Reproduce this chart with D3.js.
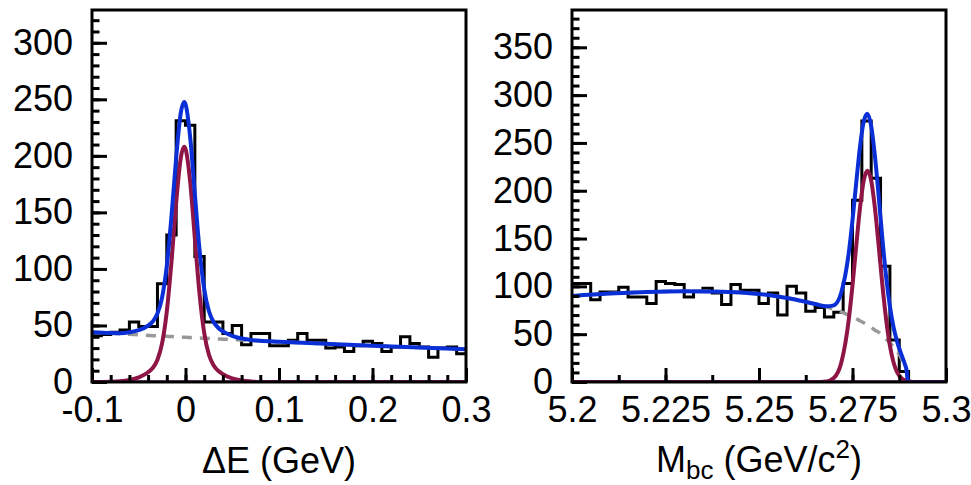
<!DOCTYPE html>
<html lang="en">
<head>
<meta charset="utf-8">
<script src="https://d3js.org/d3.v7.min.js"></script>
<style>
  body { margin: 0; background: #fff; }
  svg { display: block; font-family: "Liberation Sans", Arial, Helvetica, sans-serif; }
  .frame { fill: none; stroke: #000; stroke-width: 3; }
  .axis path.domain { display: none; }
  .axis line { stroke: #000; stroke-width: 3; }
  .axis text { font-size: 36px; fill: #000; font-family: "Liberation Sans", Arial, Helvetica, sans-serif; }
  .title { font-size: 36px; fill: #000; }
  .hist { fill: none; stroke: #000; stroke-width: 3; }
  .bkg { fill: none; stroke: #999; stroke-width: 3.5; stroke-dasharray: 10 8; }
  .sig { fill: none; stroke: #8e1546; stroke-width: 4; }
  .tot { fill: none; stroke: #0b2fd6; stroke-width: 4; }
  .flat { fill: none; stroke: #8a1f82; stroke-width: 3.5; }
</style>
</head>
<body>
<svg id="chart" width="971" height="485"></svg>
<script>
// ---- Delta E panel: 40 bins of 0.01 GeV starting at -0.1 ----
const deBins = [41, 42, 44, 46, 53, 49, 49, 87, 130, 231,
                227, 111, 53, 53, 43, 50, 33, 43, 43, 32,
                32, 37, 43, 37, 37, 30, 31, 27, 32, 36,
                34, 27, 31, 40, 34, 31, 22, 30, 31, 25];
// fit curves sampled along Delta E
const deFitX = [-0.1, -0.08, -0.07, -0.06, -0.05, -0.04, -0.035, -0.03, -0.025, -0.02,
                -0.015, -0.01, -0.005, -0.0015, 0, 0.005, 0.01, 0.015, 0.02, 0.025,
                0.03, 0.035, 0.04, 0.05, 0.06, 0.07, 0.08, 0.1, 0.15, 0.2, 0.25, 0.3];
const deBkg = [44.0, 43.1, 42.6, 42.2, 41.7, 41.2, 41.0, 40.8, 40.6, 40.4,
               40.2, 39.9, 39.7, 39.6, 39.5, 39.3, 39.1, 38.9, 38.7, 38.5,
               38.3, 38.1, 37.9, 37.5, 37.1, 36.7, 36.3, 35.6, 33.8, 32.1, 30.5, 29.0];
const deSig = [0, 0.2, 0.6, 1.75, 4.1, 8.6, 12.5, 19.7, 34.3, 62.3,
               106.2, 158.3, 198.5, 208, 206.2, 177.1, 127, 78.1, 43.6, 24.3,
               14.8, 9.9, 6.9, 3.2, 1.3, 0.5, 0.1, 0, 0, 0, 0, 0];
const deTot = [44.0, 43.3, 43.2, 44.0, 45.8, 49.8, 53.5, 60.5, 74.9, 102.7,
               146.4, 198.2, 238.2, 247.6, 245.7, 216.4, 166.1, 117.0, 82.3, 62.8,
               53.1, 48.0, 44.8, 40.7, 38.4, 37.2, 36.4, 35.6, 33.8, 32.1, 30.5, 29.0];
const deTicks = [-0.1, 0, 0.1, 0.2, 0.3];
const deTickLabels = ["-0.1", "0", "0.1", "0.2", "0.3"];
const deYTicks = [0, 50, 100, 150, 200, 250, 300];

// ---- Mbc panel: 40 bins of 2.5 MeV starting at 5.2 ----
const mbcBins = [103, 103, 86, 94, 94, 99, 89, 89, 82, 105,
                 103, 102, 89, 95, 98, 93, 81, 102, 96, 96,
                 82, 93, 70, 100, 93, 74, 78, 68, 73, 103,
                 190, 273, 213, 121, 44, 11, 0, 0, 0, 0];
const mbcFitX = [5.2, 5.21, 5.22, 5.23, 5.24, 5.25, 5.255, 5.26, 5.265, 5.268,
                 5.27, 5.272, 5.274, 5.275, 5.276, 5.277, 5.278, 5.279, 5.28, 5.281,
                 5.282, 5.283, 5.284, 5.285, 5.286, 5.287, 5.288, 5.289, 5.2895, 5.2898,
                 5.29, 5.292, 5.3];
const mbcBkg = [90, 92.5, 94.2, 95, 94.5, 92, 89.5, 86, 81.5, 78.5,
                76, 73.4, 69.8, 68.1, 66.1, 64, 61.9, 59.5, 57, 54.2,
                52, 48.2, 44.7, 41, 36.5, 31.5, 25.3, 16.9, 10.4, 0,
                0, 0, 0];
const mbcSig = [0, 0, 0, 0, 0, 0, 0, 0, 0, 0.6,
                4.2, 20.2, 65.2, 101.2, 142.4, 181.8, 210.5, 221, 210.5, 181.8,
                142.4, 101.2, 65.2, 38.1, 20.2, 9.7, 4.2, 1.7, 1.0, 0.8,
                0.6, 0, 0];
const mbcTot = [90, 92.5, 94.2, 95, 94.5, 92, 89.5, 86, 81.5, 79.1,
                80.2, 93.6, 135, 169.3, 208.5, 245.8, 272.4, 280.5, 267.5, 236,
                194.4, 149.4, 109.9, 79.1, 56.7, 41.2, 29.5, 18.6, 11.4, 0.8,
                0.6, 0, 0];
const mbcTicks = [5.2, 5.225, 5.25, 5.275, 5.3];
const mbcTickLabels = ["5.2", "5.225", "5.25", "5.275", "5.3"];
const mbcYTicks = [0, 50, 100, 150, 200, 250, 300, 350];

const svg = d3.select("#chart");

const panels = [
  { id: "de", x0: 92, x1: 466, y0: 10, y1: 382,
    xDomain: [-0.1, 0.3], yMax: 329, binWidth: 0.01, minorX: 0.02,
    bins: deBins, fitX: deFitX, bkg: deBkg, sig: deSig, tot: deTot,
    xTicks: deTicks, xLabels: deTickLabels, yTicks: deYTicks },
  { id: "mbc", x0: 572, x1: 946, y0: 10, y1: 382,
    xDomain: [5.2, 5.3], yMax: 389, binWidth: 0.0025, minorX: 0.0125,
    bins: mbcBins, fitX: mbcFitX, bkg: mbcBkg, sig: mbcSig, tot: mbcTot,
    xTicks: mbcTicks, xLabels: mbcTickLabels, yTicks: mbcYTicks }
];

function drawPanel(p) {
  const x = d3.scaleLinear().domain(p.xDomain).range([p.x0, p.x1]);
  const y = d3.scaleLinear().domain([0, p.yMax]).range([p.y1, p.y0]);
  const g = svg.append("g");

  g.append("clipPath").attr("id", "clip-" + p.id)
    .append("rect")
    .attr("x", p.x0).attr("y", p.y0)
    .attr("width", p.x1 - p.x0).attr("height", p.y1 - p.y0);

  const plot = g.append("g").attr("clip-path", `url(#clip-${p.id})`);

  // histogram outline
  const steps = p.bins.map((v, i) => [p.xDomain[0] + i * p.binWidth, v]);
  steps.push([p.xDomain[1], p.bins[p.bins.length - 1]]);
  plot.append("path")
    .attr("class", "hist")
    .attr("d", d3.line().x(d => x(d[0])).y(d => y(d[1])).curve(d3.curveStepAfter)(steps));

  const curve = vals => d3.line()
    .x((d, i) => x(p.fitX[i]))
    .y(d => y(d))
    .curve(d3.curveMonotoneX)(vals);

  plot.append("path").attr("class", "bkg").attr("d", curve(p.bkg));
  plot.append("path").attr("class", "sig").attr("d", curve(p.sig));
  plot.append("path").attr("class", "tot").attr("d", curve(p.tot));

  // flat component along zero
  plot.append("path").attr("class", "flat")
    .attr("d", d3.line().x(d => x(d)).y(() => y(0))(p.xDomain));

  // axes with inward ticks
  const minorY = d3.range(0, p.yMax, 10);
  g.append("g").attr("class", "axis")
    .attr("transform", `translate(${p.x0},0)`)
    .call(d3.axisLeft(y).tickValues(minorY).tickSize(-7.5).tickFormat(""));
  g.append("g").attr("class", "axis")
    .attr("transform", `translate(${p.x0},0)`)
    .call(d3.axisLeft(y).tickValues(p.yTicks).tickSize(-15).tickPadding(19).tickFormat(d3.format("d")));

  const minorX = d3.range(p.xDomain[0], p.xDomain[1] + 1e-9, p.minorX);
  g.append("g").attr("class", "axis")
    .attr("transform", `translate(0,${p.y1})`)
    .call(d3.axisBottom(x).tickValues(minorX).tickSize(-7).tickFormat(""));
  g.append("g").attr("class", "axis")
    .attr("transform", `translate(0,${p.y1})`)
    .call(d3.axisBottom(x).tickValues(p.xTicks).tickSize(-14).tickPadding(14)
      .tickFormat((d, i) => p.xLabels[i]));

  g.selectAll(".axis").attr("font-size", null).attr("font-family", null);

  g.append("rect").attr("class", "frame")
    .attr("x", p.x0).attr("y", p.y0)
    .attr("width", p.x1 - p.x0).attr("height", p.y1 - p.y0);
  return g;
}

const gDe = drawPanel(panels[0]);
const gMbc = drawPanel(panels[1]);

gDe.append("text").attr("class", "title")
  .attr("x", (panels[0].x0 + panels[0].x1) / 2).attr("y", 473)
  .attr("text-anchor", "middle")
  .text("ΔE (GeV)");

const mt = gMbc.append("text").attr("class", "title")
  .attr("x", (panels[1].x0 + panels[1].x1) / 2).attr("y", 472)
  .attr("text-anchor", "middle");
mt.append("tspan").text("M");
mt.append("tspan").attr("dy", 7).attr("font-size", 26).text("bc");
mt.append("tspan").attr("dy", -7).text(" (GeV/c");
mt.append("tspan").attr("dy", -14).attr("font-size", 26).text("2");
mt.append("tspan").attr("dy", 14).text(")");
</script>
</body>
</html>
